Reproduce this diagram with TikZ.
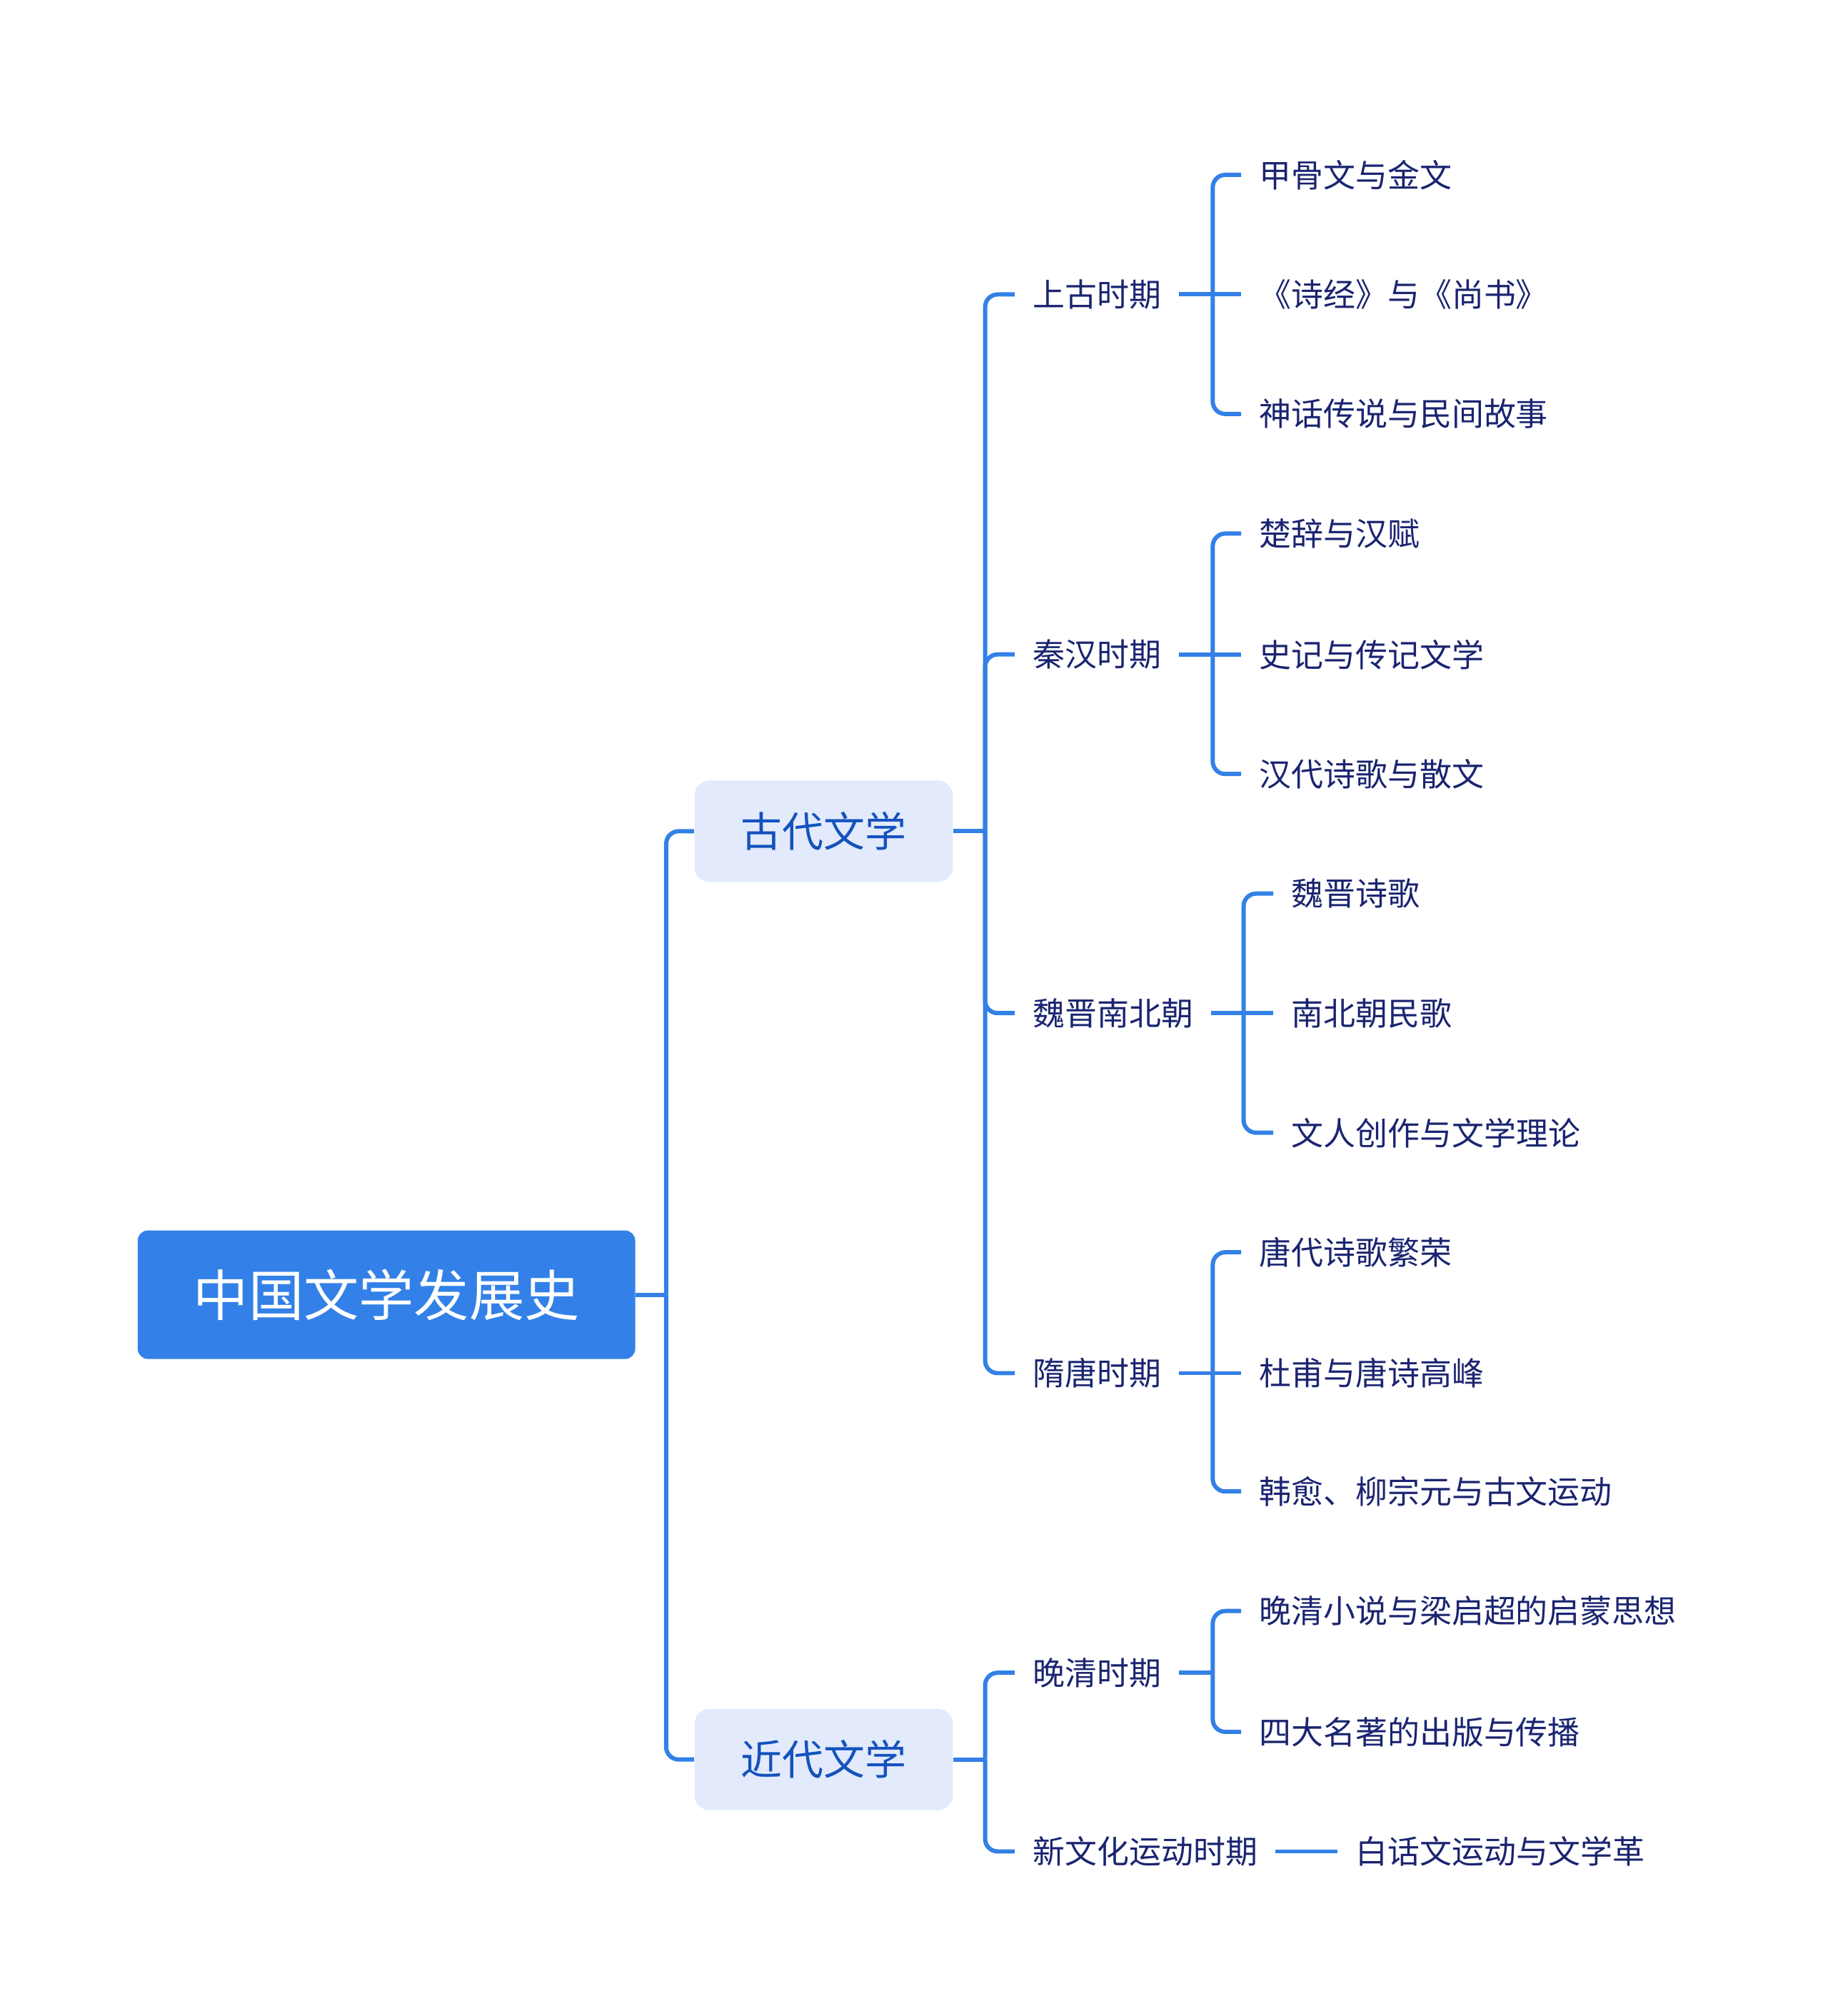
\documentclass[tikz,border=0pt]{standalone}
\usepackage{fontspec}
\setmainfont{Noto Sans CJK SC}
\definecolor{linkblue}{HTML}{3380E6}
\definecolor{rootblue}{HTML}{3381E8}
\definecolor{boxfill}{HTML}{E2EAFB}
\definecolor{boxtext}{HTML}{1452BD}
\definecolor{leaftext}{HTML}{1A2470}
\begin{document}
\begin{tikzpicture}
	[
	x=0.018015cm, y=-0.018015cm,
	root/.style={fill = rootblue, text = white, rounded corners = 4pt, minimum width = 6.97cm, minimum height = 1.8cm, font = \fontsize{22}{26}\selectfont},
	era/.style={fill = boxfill, text = boxtext, rounded corners = 6pt, minimum width = 3.62cm, minimum height = 1.42cm, font = \fontsize{16.5}{20}\selectfont},
	period/.style={text = leaftext, anchor = west, inner xsep = 7pt, font = \fontsize{12.8}{15}\selectfont},
	work/.style={text = leaftext, anchor = west, inner xsep = 7pt, font = \fontsize{12.8}{15}\selectfont},
	link/.style={draw = linkblue, line width = 1.7pt},
	elbow/.style={link, rounded corners = 5pt}
	]
	
	\useasboundingbox (0,0) rectangle (1421,1568);
	
	\node[root](root) at (300.5, 1007){中国文学发展史};
	\node[era](ancient) at (640.5, 646.5){古代文学};
	\node[era](modern) at (640.5, 1368.5){近代文学};
	
	\node[period](shanggu) at (789, 229){上古时期};
	\node[period](qinhan) at (789, 509){秦汉时期};
	\node[period](weijin) at (789, 788){魏晋南北朝};
	\node[period](suitang) at (789, 1068){隋唐时期};
	\node[period](wanqing) at (789, 1301){晚清时期};
	\node[period](xinwenhua) at (789, 1440){新文化运动时期};
	
	\node[work](jiagu) at (965, 136){甲骨文与金文};
	\node[work](shijing) at (965, 229){《诗经》与《尚书》};
	\node[work](shenhua) at (965, 322){神话传说与民间故事};
	\node[work](chuci) at (965, 415){楚辞与汉赋};
	\node[work](shiji) at (965, 509){史记与传记文学};
	\node[work](handai) at (965, 602){汉代诗歌与散文};
	\node[work](weijinshi) at (990, 695){魏晋诗歌};
	\node[work](minge) at (990, 788){南北朝民歌};
	\node[work](wenren) at (990, 881){文人创作与文学理论};
	\node[work](tangshi) at (965, 974){唐代诗歌繁荣};
	\node[work](dufu) at (965, 1068){杜甫与唐诗高峰};
	\node[work](hanyu) at (965, 1160){韩愈、柳宗元与古文运动};
	\node[work](liang) at (965, 1253){晚清小说与梁启超的启蒙思想};
	\node[work](mingzhu) at (965, 1347){四大名著的出版与传播};
	\node[work](baihua) at (1040, 1440){白话文运动与文学革};
	
	\coordinate (j0) at (518, 1007);
	\coordinate (ja) at (766, 646.5);
	\coordinate (jm) at (766, 1368.5);
	\coordinate (j1) at (943, 229);
	\coordinate (j2) at (943, 509);
	\coordinate (j3) at (967, 788);
	\coordinate (j4) at (943, 1068);
	\coordinate (j5) at (943, 1301);
	
	\draw[link](root) -- (j0);
	\draw[elbow](j0) |- (ancient.west);
	\draw[elbow](j0) |- (modern.west);
	
	\draw[link](ancient) -- (ja);
	\foreach \p in {shanggu, qinhan, weijin, suitang}
		\draw[elbow](ja) |- (\p.west);
	\draw[link](modern) -- (jm);
	\foreach \p in {wanqing, xinwenhua}
		\draw[elbow](jm) |- (\p.west);
	
	\draw[link](shanggu) -- (shijing);
	\foreach \w in {jiagu, shenhua}
		\draw[elbow](j1) |- (\w.west);
	\draw[link](qinhan) -- (shiji);
	\foreach \w in {chuci, handai}
		\draw[elbow](j2) |- (\w.west);
	\draw[link](weijin) -- (minge);
	\foreach \w in {weijinshi, wenren}
		\draw[elbow](j3) |- (\w.west);
	\draw[link](suitang) -- (dufu);
	\foreach \w in {tangshi, hanyu}
		\draw[elbow](j4) |- (\w.west);
	\draw[link](wanqing) -- (j5);
	\foreach \w in {liang, mingzhu}
		\draw[elbow](j5) |- (\w.west);
	\draw[link](xinwenhua) -- (baihua);
\end{tikzpicture}
\end{document}
